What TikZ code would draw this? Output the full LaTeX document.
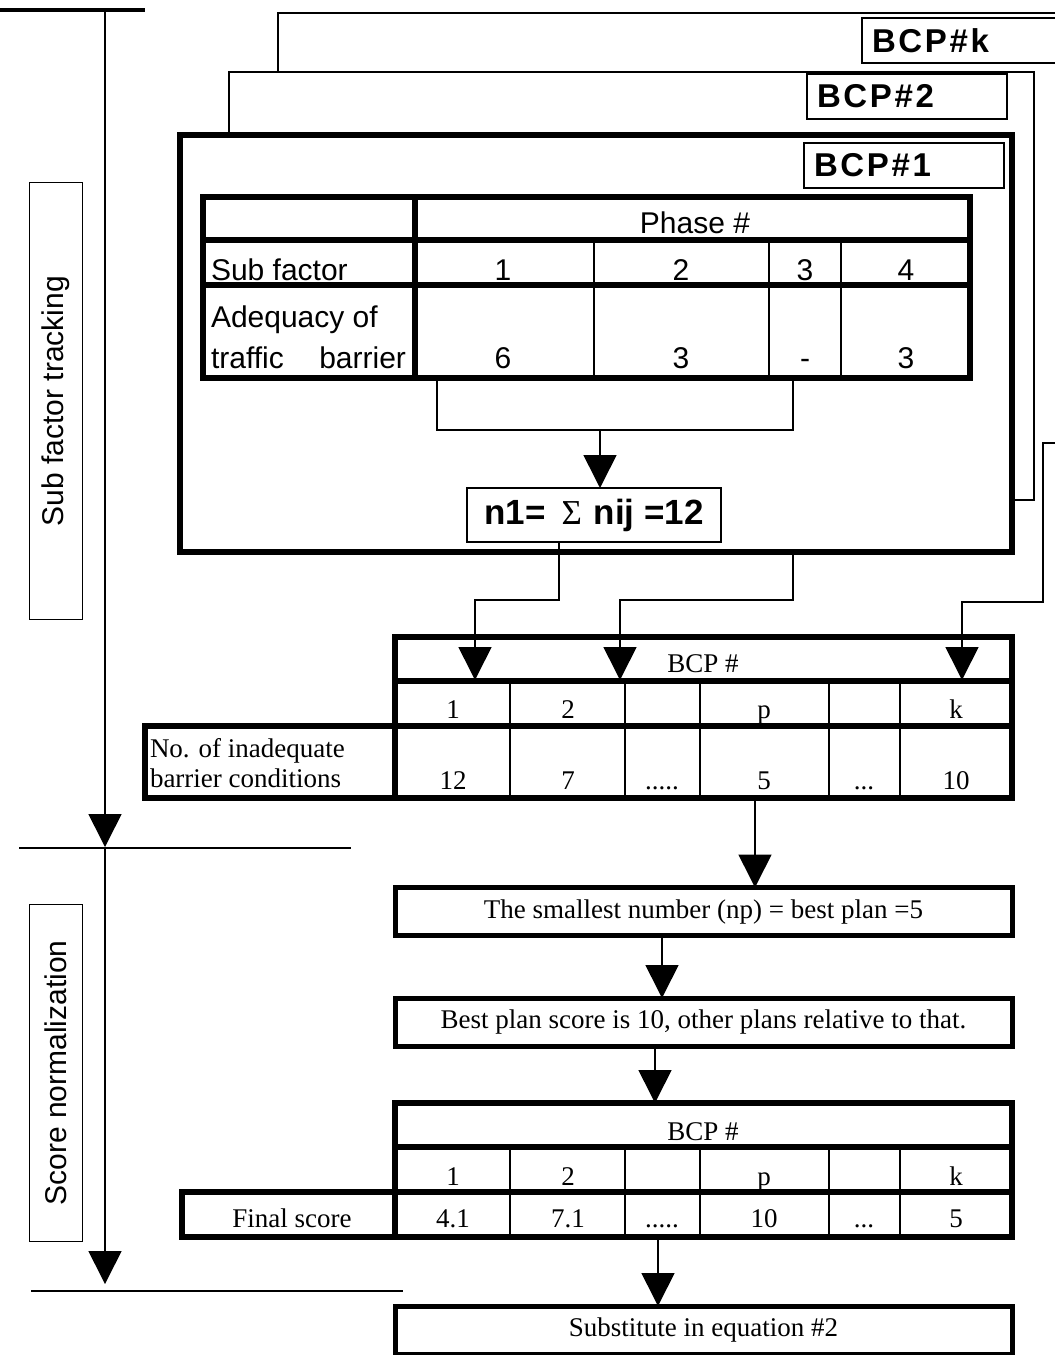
\documentclass[tikz,border=0pt]{standalone}
\usepackage{fontspec}
\setmainfont{Liberation Serif}
\setsansfont{Liberation Sans}
\newfontfamily\bcpfamily[LetterSpace=8]{Liberation Sans}
\usetikzlibrary{arrows.meta,positioning,calc}
\newcommand{\sftext}{\sffamily\fontsize{30}{35}\selectfont}
\newcommand{\rmtext}{\rmfamily\fontsize{27}{31}\selectfont}
\newcommand{\bcptext}{\bcpfamily\bfseries\fontsize{33}{38}\selectfont}
\newcommand{\sumtext}{\sffamily\bfseries\fontsize{35}{40}\selectfont}
\newcommand{\fivedots}{.....}
\newcommand{\threedots}{...}
\tikzset{
    every node/.style={inner sep=0pt,outer sep=0pt},
    thinline/.style={line width=1.6pt},
    midline/.style={line width=2.5pt},
    thickline/.style={line width=5.5pt},
    flow/.style={line width=1.6pt,-{Triangle[width=33pt,length=33pt]}},
    flowbox/.style={draw,line width=5pt,minimum width=617pt,minimum height=48pt,font=\rmtext},
    bcplabel/.style={draw,fill=white,line width=1.6pt,anchor=north west,minimum height=45pt,text width=180pt,inner xsep=10pt,align=left,font=\bcptext},
    stagelabel/.style={draw,line width=1.6pt,rotate=90,minimum height=53pt,font=\sftext},
    rmcell/.style={anchor=base,font=\rmtext},
    sfcell/.style={anchor=base,font=\sftext}
}
\begin{document}
\begin{tikzpicture}[x=1pt,y=-1pt]
\useasboundingbox (0,0) rectangle (1055,1355);

% stages on the left
\coordinate (bar1w) at (0,10);
\coordinate (bar1e) at (145,10);
\coordinate (bar2w) at (19,848);
\coordinate (bar2e) at (351,848);
\coordinate (bar3w) at (31,1291);
\coordinate (bar3e) at (403,1291);
\draw[line width=4pt] (bar1w) -- (bar1e);
\draw[thinline] (bar2w) -- (bar2e);
\draw[thinline] (bar3w) -- (bar3e);
\draw[flow] (105,10) -- (105,847);
\draw[flow] (105,848) -- (105,1284);
\node[stagelabel,minimum width=437pt] (track) at (56,401) {Sub factor tracking};
\node[stagelabel,minimum width=337pt] (norm) at (56,1073) {Score normalization};

% stacked plans
\draw[thinline] (278,72) |- (1070,13);
\node[bcplabel,text width=200pt] (labk) at (862,18) {BCP\#k};
\draw[thinline] (229,135) |- (1034,72) |- (1012,500);
\node[bcplabel] (lab2) at (807,74) {BCP\#2};
\node[draw,line width=6pt,minimum width=832pt,minimum height=417pt,anchor=north west] (bcp1) at (180,135) {};
\node[bcplabel] (lab1) at (804,143) {BCP\#1};

% phase table
\draw[thickline] (203,197) rectangle (970,378);
\draw[thickline] (203,240) -- (970,240);
\draw[thickline] (203,285) -- (970,285);
\draw[thickline] (415,197) -- (415,378);
\foreach \x in {594,769,841}
    \draw[midline] (\x,240) -- (\x,378);
\node[sfcell] (phase) at (695,233) {Phase \#};
\node[sfcell,anchor=base west] (subf) at (211,280) {Sub factor};
\node[sfcell,anchor=base west] (adeq) at (211,327) {Adequacy of};
\node[sfcell,anchor=base west] (barr) at (211,368) {\makebox[195pt][s]{traffic barrier}};
\foreach \x/\a/\b [count=\i] in {503/1/6,681/2/3,805/3/-,906/4/3}{
    \node[sfcell] (ph\i) at (\x,280) {\a};
    \node[sfcell] (nv\i) at (\x,368) {\b};
}
\draw[thinline] (437,378) |- (793,430) -- (793,378);
\coordinate (brk) at (600,430);
\node[draw,thinline,minimum width=254pt,minimum height=54pt,font=\sumtext] (n1) at (594,515)
    {n1=\hspace{16pt}{\rmfamily\mdseries Σ}\hspace{12pt}nij =12};
\draw[flow] (brk) -- (brk |- n1.north);

% counts per plan
\coordinate (in1) at (475,680);
\coordinate (in2) at (620,680);
\coordinate (ink) at (962,680);
\coordinate (kout) at (1070,443);
\draw[thickline] (395,637) rectangle (1012,798);
\draw[thickline] (395,681) -- (1012,681);
\draw[thickline] (145,726) rectangle (395,798);
\draw[thickline] (395,726) -- (1012,726);
\foreach \x in {510,625,700,829,900}
    \draw[thinline] (\x,681) -- (\x,798);
\node[rmcell] (bcpa) at (703,672) {BCP \#};
\node[rmcell,anchor=base west] (cnta) at (150,757) {No. of inadequate};
\node[rmcell,anchor=base west] (cntb) at (150,787) {barrier conditions};
\foreach \x/\a/\b [count=\i] in {453/1/12,568/2/7,662//\fivedots,764/p/5,864//\threedots,956/k/10}{
    \node[rmcell] (pa\i) at (\x,718) {\a};
    \node[rmcell] (ca\i) at (\x,789) {\b};
}
\draw[flow] ([xshift=-35pt]n1.south) -- ++(0,58) -| (in1);
\draw[flow] ([xshift=197pt]bcp1.south) -- ++(0,48) -| (in2);
\draw[flow] (kout) -- (1043,443) -- (1043,602) -| (ink);

% normalization
\coordinate (t1out) at (755,798);
\node[flowbox] (small) at (703.5,911.5) {The smallest number (np) = best plan =5};
\node[flowbox] (best) at (703.5,1022) {Best plan score is 10, other plans relative to that.};
\draw[flow] (t1out) -- (t1out |- small.north);
\draw[flow] ([xshift=-41.5pt]small.south) -- ([xshift=-41.5pt]best.north);
\draw[flow] ([xshift=-48.5pt]best.south) -- (655,1103);

% final scores
\draw[thickline] (395,1103) rectangle (1012,1237);
\draw[thickline] (395,1147) -- (1012,1147);
\draw[thickline] (182,1192) rectangle (395,1237);
\draw[thickline] (395,1192) -- (1012,1192);
\foreach \x in {510,625,700,829,900}
    \draw[thinline] (\x,1147) -- (\x,1237);
\node[rmcell] (bcpb) at (703,1140) {BCP \#};
\node[rmcell] (fin) at (292,1227) {Final score};
\foreach \x/\a/\b [count=\i] in {453/1/4.1,568/2/7.1,662//\fivedots,764/p/10,864//\threedots,956/k/5}{
    \node[rmcell] (pb\i) at (\x,1185) {\a};
    \node[rmcell] (sb\i) at (\x,1227) {\b};
}
\coordinate (t2out) at (658,1237);
\node[flowbox] (subst) at (703.5,1330) {Substitute in equation \#2};
\draw[flow] (t2out) -- (t2out |- subst.north);
\end{tikzpicture}
\end{document}
